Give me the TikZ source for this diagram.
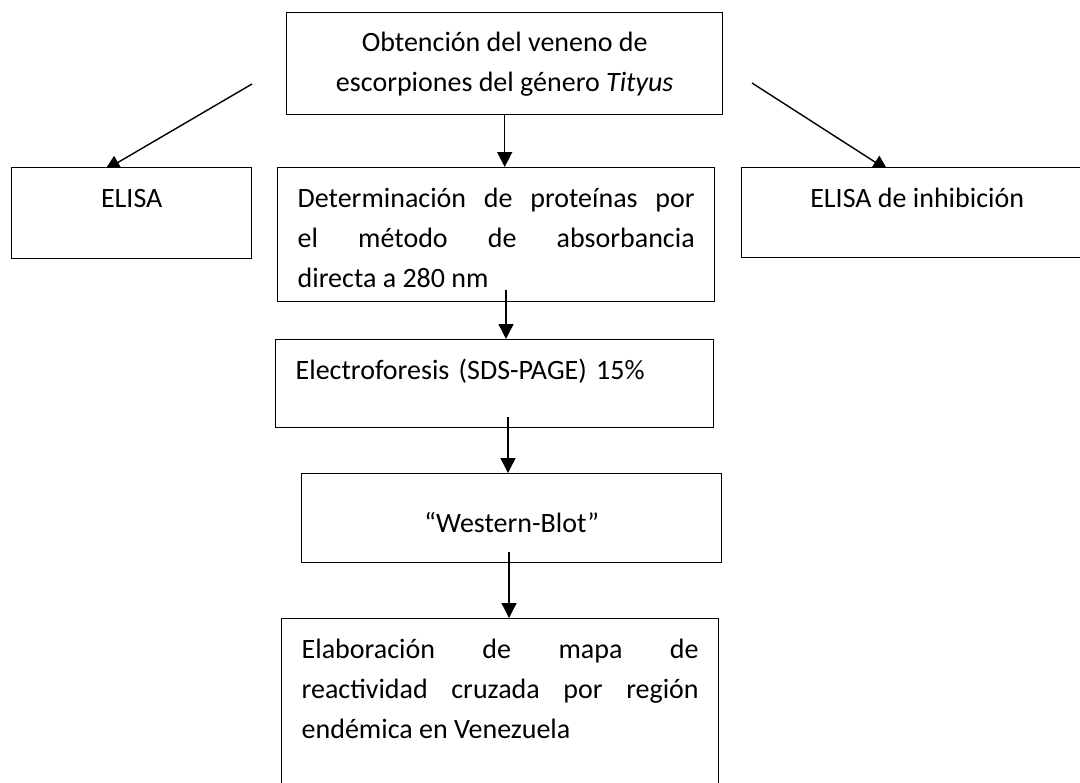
\documentclass[tikz,border=0pt]{standalone}
\usepackage{fontspec}
\setmainfont{Carlito}
\usetikzlibrary{arrows.meta,backgrounds}
\hyphenpenalty=10000
\tolerance=10000
\hbadness=10000

\begin{document}
\begin{tikzpicture}[x = 1pt, y = -1pt]
        \tikzset{Caja/.style =   {draw,
            fill  = white,
            line width = 0.7pt,
            anchor = north west,
            inner xsep = 10pt,
            font  = \fontsize{14}{20}\selectfont}}
        \tikzset{Arriba/.style = {inner ysep = 10.5pt,
            text height = 9.5pt}}
        \tikzset{Flecha/.style = {line width = 0.7pt,
            -{Triangle[length = 7.5pt, width = 7.5pt]}}}
        \useasboundingbox (0,0) rectangle (540,391);
        \clip (0,0) rectangle (540,391);
        \node[Caja, minimum width = 218pt, minimum height = 51pt, align = center] (Veneno) at (143,6)
            {Obtención del veneno de\\escorpiones del género \textit{Tityus}};
        \node[Caja, Arriba, minimum width = 120pt, text depth = 15pt] (Elisa) at (5.5,83.5) {ELISA};
        \node[Caja, Arriba, text width = 198.5pt, align = justify, text depth = 36.5pt] (Proteinas) at (138.5,83.5)
            {Determinación de proteínas por\linebreak el método de absorbancia\linebreak directa a 280 nm};
        \node[Caja, Arriba, minimum width = 175.5pt, text depth = 14.5pt] (Inhibicion) at (370.5,83.5) {ELISA de inhibición};
        \node[Caja, Arriba, text width = 199pt, align = left, text depth = 13.5pt] (Electro) at (137.5,169.5)
            {Electroforesis (SDS-PAGE) 15\%};
        \node[Caja, Arriba, minimum width = 210pt, text height = 19pt, text depth = 4.5pt] (Western) at (150.5,236.5)
            {“Western-Blot”};
        \node[Caja, Arriba, text width = 198.5pt, align = justify, text depth = 90pt] (Mapa) at (140.5,309)
            {Elaboración de mapa de\linebreak reactividad cruzada por región\linebreak endémica en Venezuela};
        \coordinate (IniIzq) at (126,42);
        \coordinate (IniDer) at (376,41.5);
        \coordinate (IniDos) at (253,145);
        \coordinate (IniTres) at (254,208.5);
        \coordinate (IniCuatro) at (254.5,276);
        \begin{scope}[on background layer]
        \draw[Flecha, shorten >= -3pt] (IniIzq) -- (Elisa.115);
        \draw[Flecha, shorten >= -3pt] (IniDer) -- (Inhibicion.127);
        \end{scope}
        \draw[Flecha] (Veneno.south) -- (Veneno.south |- Proteinas.north);
        \draw[Flecha] (IniDos) -- (IniDos |- Electro.north);
        \draw[Flecha] (IniTres) -- (IniTres |- Western.north);
        \draw[Flecha] (IniCuatro) -- (IniCuatro |- Mapa.north);
      \end{tikzpicture}
\end{document}
